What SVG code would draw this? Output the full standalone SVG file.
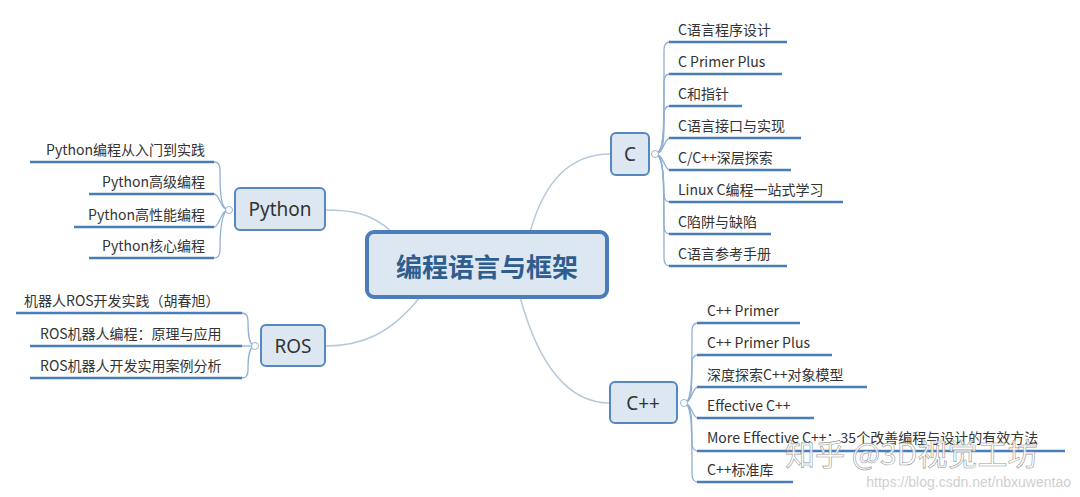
<svg xmlns="http://www.w3.org/2000/svg" width="1080" height="497" viewBox="0 0 1080 497">
<style>
.t{font-family:"Noto Sans CJK SC","Noto Sans",sans-serif;font-size:14px;fill:#333}
.n{fill:#dde7f2;stroke:#5588c0;stroke-width:2}
.nt{font-family:"Noto Sans","Noto Sans CJK SC",sans-serif;font-size:19px;fill:#333;text-anchor:middle}
.u{stroke:#4a7ebb;stroke-width:2.5}
.b{fill:none;stroke:#8fb0d4;stroke-width:1.3}
.m{fill:none;stroke:#b5c9dc;stroke-width:1.5}
.c{fill:#fff;stroke:#9ab3cc;stroke-width:1}
</style>
<rect width="1080" height="497" fill="#fff"/>
<g id="connectors">
<path class="m" d="M530,232 C545,180 570,154 611,154"/>
<path class="m" d="M392,232 C370,212 350,210 325,210"/>
<path class="m" d="M420,297 C390,335 360,346 325,346"/>
<path class="m" d="M520,297 C540,370 570,403 610,403"/>
<g class="b">
<path d="M655,154 C664,154 664,140 664,120 L664,50 Q664,42 670,42"/>
<path d="M655,154 C664,154 664,130 664,82 Q664,74 670,74"/>
<path d="M655,154 C664,154 664,120 664,114 Q664,106 670,106"/>
<path d="M655,154 C664,154 664,138 670,138"/>
<path d="M655,154 C664,154 664,170 670,170"/>
<path d="M655,154 C664,154 664,190 664,194 Q664,202 670,202"/>
<path d="M655,154 C664,154 664,180 664,226 Q664,234 670,234"/>
<path d="M655,154 C664,154 664,170 664,258 Q664,266 670,266"/>
<path d="M684,403 C692,403 692,380 692,331 Q692,323 698,323"/>
<path d="M684,403 C692,403 692,390 692,363 Q692,355 698,355"/>
<path d="M684,403 C692,403 692,387 698,387"/>
<path d="M684,403 C692,403 692,418 698,418"/>
<path d="M684,403 C692,403 692,420 692,443 Q692,451 698,451"/>
<path d="M684,403 C692,403 692,430 692,474 Q692,482 698,482"/>
<path d="M229,210 C220,210 220,190 220,170 Q220,162 214,162"/>
<path d="M229,210 C220,210 220,194 214,194"/>
<path d="M229,210 C220,210 220,227 214,227"/>
<path d="M229,210 C220,210 220,240 220,250 Q220,258 214,258"/>
<path d="M255,346 C248,346 248,330 248,321 Q248,313 242,313"/>
<path d="M255,346 C248,346 242,346 240,346"/>
<path d="M255,346 C248,346 248,362 248,370 Q248,378 242,378"/>
</g>
<circle class="c" cx="655" cy="154" r="3.5"/>
<circle class="c" cx="684" cy="403" r="3.5"/>
<circle class="c" cx="229" cy="210" r="3.5"/>
<circle class="c" cx="255" cy="346" r="3.5"/>
</g>
<g id="center">
<rect x="367" y="232" width="240" height="65" rx="7" fill="#dde7f2" stroke="#4a7ebb" stroke-width="4"/>
<text x="487" y="277" text-anchor="middle" style="font-family:'Noto Sans CJK SC',sans-serif;font-size:26px;font-weight:bold;fill:#2e5d8e">编程语言与框架</text>
</g>
<g id="node-c"><rect class="n" x="611" y="133" width="38" height="42" rx="5"/><text class="nt" x="630" y="161">C</text></g>
<g id="node-cpp"><rect class="n" x="610" y="382" width="67" height="41" rx="5"/><text class="nt" x="643" y="410">C++</text></g>
<g id="node-python"><rect class="n" x="235" y="188" width="90" height="42" rx="5"/><text class="nt" x="280" y="216">Python</text></g>
<g id="node-ros"><rect class="n" x="261" y="325" width="64" height="41" rx="5"/><text class="nt" x="293" y="353">ROS</text></g>
<g id="c-leaves">
<text class="t" x="678" y="35">C语言程序设计</text><line class="u" x1="669" y1="42" x2="787" y2="42"/>
<text class="t" x="678" y="67">C Primer Plus</text><line class="u" x1="669" y1="74" x2="782" y2="74"/>
<text class="t" x="678" y="99">C和指针</text><line class="u" x1="669" y1="106" x2="742" y2="106"/>
<text class="t" x="678" y="131">C语言接口与实现</text><line class="u" x1="669" y1="138" x2="801" y2="138"/>
<text class="t" x="678" y="163">C/C++深层探索</text><line class="u" x1="669" y1="170" x2="791" y2="170"/>
<text class="t" x="678" y="195">Linux C编程一站式学习</text><line class="u" x1="669" y1="202" x2="843" y2="202"/>
<text class="t" x="678" y="227">C陷阱与缺陷</text><line class="u" x1="669" y1="234" x2="771" y2="234"/>
<text class="t" x="678" y="259">C语言参考手册</text><line class="u" x1="669" y1="266" x2="787" y2="266"/>
</g>
<g id="cpp-leaves">
<text class="t" x="707" y="316">C++ Primer</text><line class="u" x1="697" y1="323" x2="800" y2="323"/>
<text class="t" x="707" y="348">C++ Primer Plus</text><line class="u" x1="697" y1="355" x2="832" y2="355"/>
<text class="t" x="707" y="380">深度探索C++对象模型</text><line class="u" x1="697" y1="387" x2="867" y2="387"/>
<text class="t" x="707" y="411">Effective C++</text><line class="u" x1="697" y1="418" x2="814" y2="418"/>
<text class="t" x="707" y="443">More Effective C++：35个改善编程与设计的有效方法</text><line class="u" x1="697" y1="451" x2="1065" y2="451"/>
<text class="t" x="707" y="475">C++标准库</text><line class="u" x1="697" y1="482" x2="793" y2="482"/>
</g>
<g id="python-leaves">
<text class="t" x="205" y="155" text-anchor="end">Python编程从入门到实践</text><line class="u" x1="30" y1="162" x2="214" y2="162"/>
<text class="t" x="205" y="187" text-anchor="end">Python高级编程</text><line class="u" x1="89" y1="194" x2="214" y2="194"/>
<text class="t" x="205" y="220" text-anchor="end">Python高性能编程</text><line class="u" x1="74" y1="227" x2="214" y2="227"/>
<text class="t" x="205" y="251" text-anchor="end">Python核心编程</text><line class="u" x1="89" y1="258" x2="214" y2="258"/>
</g>
<g id="ros-leaves">
<text class="t" x="24" y="306">机器人ROS开发实践（胡春旭）</text><line class="u" x1="16" y1="313" x2="242" y2="313"/>
<text class="t" x="40" y="339">ROS机器人编程：原理与应用</text><line class="u" x1="30" y1="346" x2="242" y2="346"/>
<text class="t" x="40" y="371">ROS机器人开发实用案例分析</text><line class="u" x1="30" y1="378" x2="242" y2="378"/>
</g>
<g id="watermark" style="font-family:'Noto Sans CJK SC',sans-serif">
<text x="785" y="465" style="font-size:30px;fill:#ffffff;fill-opacity:0.85;stroke:#999;stroke-width:0.6">知乎 @3D视觉工坊</text>
<text x="1071" y="487" text-anchor="end" style="font-size:14px;fill:#d0d0d0;font-family:'Liberation Sans',sans-serif">https://blog.csdn.net/nbxuwentao</text>
</g>
</svg>
